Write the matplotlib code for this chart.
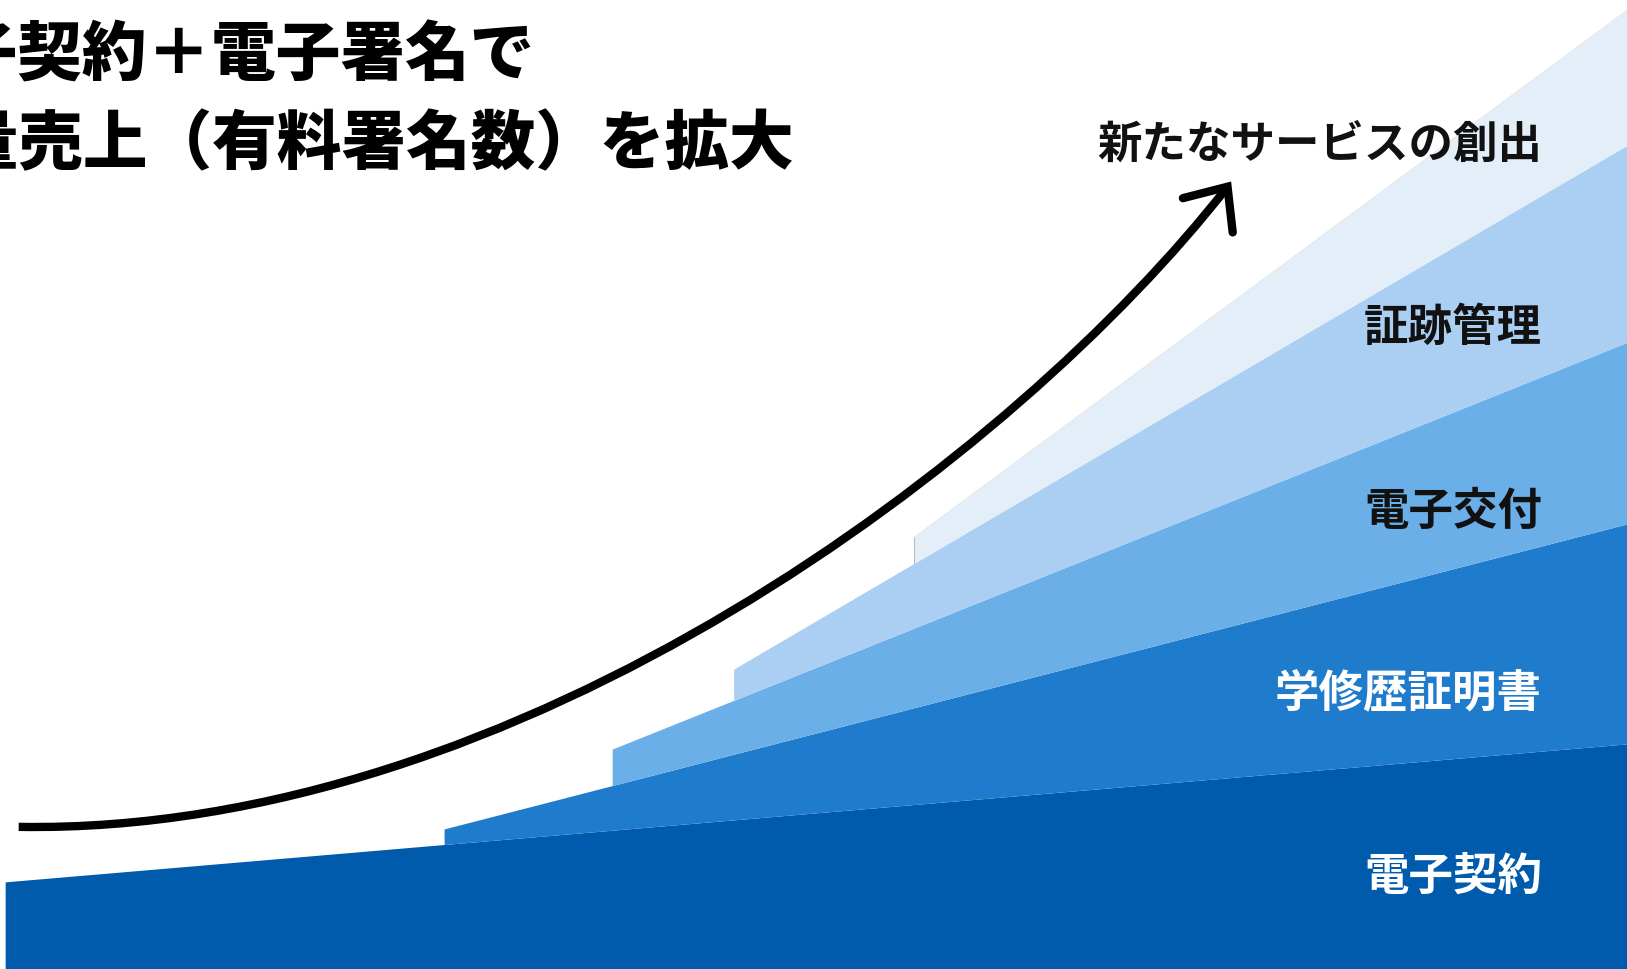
import matplotlib
matplotlib.use("Agg")
import matplotlib.pyplot as plt
import numpy as np
from matplotlib.path import Path
from matplotlib.patches import PathPatch

plt.rcParams['font.family'] = ['Noto Sans CJK JP', 'DejaVu Sans']

categories = ["電子契約", "学修歴証明書", "電子交付", "証跡管理", "新たなサービスの創出"]
band_start_x = [5, 428, 590, 707, 881]          # where each layer begins
band_top_start = [84, 135, 212, 289, 416]        # cumulative top at its start
band_top_end = [217, 429, 604, 794, 924]         # cumulative top at right edge
x_end = 1568
band_colors = ["#005BAC", "#1F7BCB", "#6BAFE8", "#AACFF2", "#E3EEF8"]
label_colors = ["white", "white", "#111111", "#111111", "#111111"]
label_y = [89, 266, 441, 618, 795]

title_lines = ["電子契約＋電子署名で", "従量売上（有料署名数）を拡大"]

# growth arrow (cubic Bezier control points)
arrow_ctrl = [(18, 137), (500, 129), (980, 494), (1183, 754)]
arrow_head = [(1140, 743), (1183, 754), (1188, 710)]

W, H = 1568, 934
fig = plt.figure(figsize=(16.27, 9.69), dpi=100)
ax = fig.add_axes([0, 0, 1, 1])
ax.set_xlim(0, W)
ax.set_ylim(0, H)
ax.axis('off')


def top_line(i, x):
    x0 = band_start_x[i]
    return band_top_start[i] + (band_top_end[i] - band_top_start[i]) * (x - x0) / (x_end - x0)


for i in range(len(categories)):
    xs = np.array([band_start_x[i], x_end])
    upper = top_line(i, xs)
    lower = np.zeros(2) if i == 0 else top_line(i - 1, xs)
    ax.fill_between(xs, lower, upper, color=band_colors[i], linewidth=0, zorder=2 + i * 0.01)
    if i == len(categories) - 1:
        ax.plot([xs[0], xs[0]], [lower[0], upper[0]], color="#BBBBBB", lw=0.8, zorder=3)
        ax.plot(xs, upper, color="#D6DEE6", lw=0.6, zorder=3)

for i, name in enumerate(categories):
    ax.text(1486, label_y[i], name, ha='right', va='center', fontsize=32,
            fontweight='bold', color=label_colors[i], zorder=5)

# arrow curve
path = Path(arrow_ctrl, [Path.MOVETO, Path.CURVE4, Path.CURVE4, Path.CURVE4])
ax.add_patch(PathPatch(path, facecolor='none', edgecolor='black', lw=6.0,
                       capstyle='butt', zorder=6))
hx, hy = zip(*arrow_head)
ax.plot(hx, hy, color='black', lw=6.0, solid_capstyle='round',
        solid_joinstyle='miter', zorder=6)

# title (partially off-canvas at the left, as in the original)
ax.text(-107, 880, title_lines[0], ha='left', va='center', fontsize=46.5,
        fontweight='heavy', color='black', clip_on=False, zorder=7)
ax.text(-107, 795, title_lines[1], ha='left', va='center', fontsize=46.5,
        fontweight='heavy', color='black', clip_on=False, zorder=7)

fig.savefig("out.png", dpi=100)
